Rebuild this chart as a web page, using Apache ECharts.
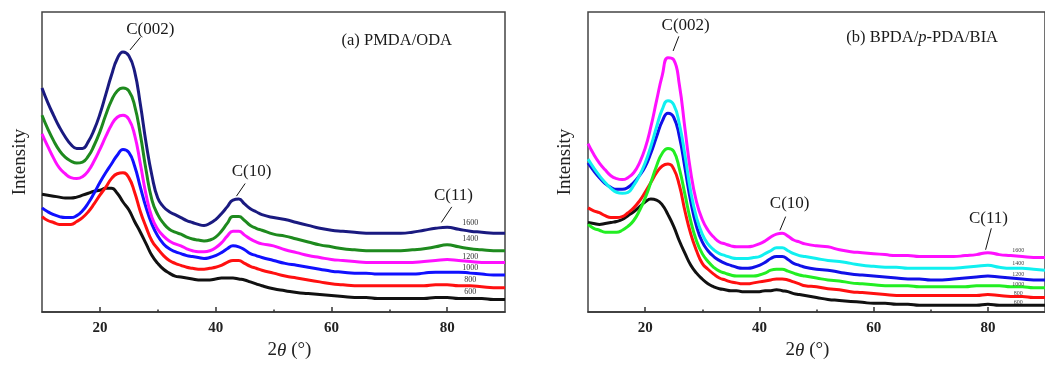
<!DOCTYPE html>
<html><head><meta charset="utf-8">
<script src="https://cdn.jsdelivr.net/npm/echarts@6/dist/echarts.min.js"></script>
<style>html,body{margin:0;padding:0;background:#fff}#c{width:1045px;height:365px}</style>
</head><body><div id="c"></div>
<script>
// ---- data ----
const twoTheta = [10,11,12,13,14,15,16,17,18,19,20,21,22,23,24,25,26,27,28,29,30,31,32,33,34,35,36,37,38,39,40,41,42,43,44,45,46,47,48,
                  50,52,54,56,58,60,62,64,66,68,70,72,74,76,78,80,82,84,86,88,90];
const majorTicks = [20,40,60,80];
const minorTicks = [30,50,70];
const temps = ['600','800','1000','1200','1400','1600'];

// (a) PMDA/ODA
const a600  = [121,120,119,118,117,117,118,120,122,124,125,127,127,122,113,105,93,82,70,58,50,44,40,37,36,35,34,33,33,33,34,35,35,35,34,33,31,29,27,
               24,22,20,19,18,17,16,15,15,14,14,14,14,14,15,15,14,14,14,13,13];
const a800  = [98,94,92,90,90,90,93,97,103,111,120,128,137,142,143,138,123,103,87,73,65,58,53,50,48,46,45,44,44,45,46,48,51,53,53,50,47,45,43,
               40,37,35,33,31,29,28,27,27,27,27,27,27,27,28,28,27,27,26,25,25];
const a1000 = [107,103,100,98,97,97,99,104,112,122,133,143,152,161,167,164,150,128,107,90,78,70,65,62,60,58,57,56,55,56,58,61,65,68,67,64,60,58,56,
               53,50,48,46,44,42,41,40,40,39,39,39,39,40,41,41,41,40,39,38,38];
const a1200 = [183,170,158,148,142,138,137,139,145,155,167,180,192,200,202,198,182,152,120,97,85,78,73,70,68,65,63,62,62,63,66,71,78,83,83,79,75,72,70,
               68,64,61,58,56,54,53,52,51,51,51,51,51,52,53,54,53,52,51,51,51];
const a1400 = [202,188,176,166,159,155,153,154,160,171,185,202,217,227,230,227,212,182,145,115,100,91,85,82,80,77,75,74,73,74,77,83,91,98,98,94,89,86,84,
               80,78,75,72,69,67,65,64,63,63,63,63,64,65,67,69,67,65,64,63,63];
const a1600 = [230,215,202,190,180,172,168,168,175,187,203,223,243,260,267,263,247,213,173,140,117,108,103,100,97,94,92,90,89,91,95,101,108,115,116,111,106,103,100,
               97,95,92,89,86,84,83,82,81,81,81,81,82,84,86,87,85,83,82,81,81];

// (b) BPDA/p-PDA/BIA
const b600  = [92,91,90,91,92,93,95,99,103,108,113,116,115,110,100,88,73,60,48,40,34,29,26,24,23,22,22,21,21,21,21,22,22,23,22,21,19,18,17,
               15,13,12,11,10,9,9,8,8,7,7,7,7,7,7,8,7,7,7,7,7];
const b800  = [107,104,102,99,97,97,98,102,107,114,123,133,143,150,152,147,130,103,80,63,50,44,39,35,33,31,30,29,29,30,31,32,33,34,34,33,31,29,27,
               26,24,23,21,20,19,18,17,17,17,17,17,17,17,17,18,17,16,16,15,15];
const b1000 = [90,86,84,82,82,82,84,88,94,104,117,133,150,163,168,165,147,120,93,73,60,52,46,42,40,38,37,37,37,37,38,40,43,44,44,42,40,38,37,
               35,33,32,30,29,28,27,27,27,26,26,26,26,26,27,27,27,26,26,25,25];
const b1200 = [153,145,138,132,128,126,126,128,133,140,149,163,180,196,204,200,180,147,113,88,72,63,57,53,50,48,46,45,45,46,48,51,55,57,57,54,50,48,46,
               44,43,41,39,38,37,36,35,34,34,33,33,34,35,36,37,36,35,34,33,33];
const b1400 = [157,148,140,133,127,123,122,123,130,140,153,170,190,208,217,213,193,160,123,97,80,70,64,60,58,56,55,55,55,56,57,60,63,66,66,63,60,58,57,
               55,53,52,50,48,47,46,46,45,45,45,45,45,46,47,48,46,45,45,44,43];
const b1600 = [173,162,153,146,140,137,136,138,143,153,168,190,217,243,261,259,233,187,143,113,95,84,77,72,70,68,67,67,67,68,70,73,77,80,81,78,74,72,70,
               68,67,64,62,61,60,59,58,58,57,57,57,57,58,59,61,59,58,57,56,56];

const panelA = [a600,a800,a1000,a1200,a1400,a1600];
const panelB = [b600,b800,b1000,b1200,b1400,b1600];
const colorsA = ['#111111','#ff1010','#1010ff','#ff10ff','#1e8a1e','#1a1a80'];
const colorsB = ['#111111','#ff1010','#22ee22','#1010e8','#10f0f0','#ff10ff'];

// ---- chart ----
const SERIF = 'Liberation Serif';
function pts(arr){ return twoTheta.map((x,i)=>[x,arr[i]]); }
function txt(text, coord, size, extra){
  return {name:text, coord:coord, symbol:'circle', symbolSize:0,
    label:Object.assign({show:true, position:'inside', formatter:text, fontSize:size,
      fontFamily:SERIF, color:'#1a1a1a'}, extra||{})};
}
function arrow(a,b){ return [{coord:a},{coord:b}]; }

function mainX(gi, namePad){
  return {type:'value', gridIndex:gi, min:10, max:90, interval:10,
    axisLine:{show:true, lineStyle:{color:'#333', width:1.5}},
    axisTick:{show:true, inside:true, length:5, customValues:majorTicks, lineStyle:{color:'#333', width:1.5}},
    axisLabel:{show:true, customValues:majorTicks, margin:9, fontFamily:SERIF, fontWeight:'bold', fontSize:15, color:'#222'},
    splitLine:{show:false},
    name:'{n|2}{i|θ}{n| (°)}', nameLocation:'middle', nameGap:namePad[0],
    nameTextStyle:{padding:namePad[1], rich:{n:{fontFamily:SERIF, fontSize:19, color:'#222'}, i:{fontFamily:SERIF, fontStyle:'italic', fontSize:19, color:'#222'}}}
  };
}
function minorX(gi){
  return {type:'value', gridIndex:gi, min:10, max:90, interval:10, position:'bottom', offset:0,
    axisLine:{show:false},
    axisTick:{show:true, inside:true, length:2.5, customValues:minorTicks, lineStyle:{color:'#333', width:1.5}},
    axisLabel:{show:false}, splitLine:{show:false}};
}
function yAx(gi, gap){
  return {type:'value', gridIndex:gi, min:0, max:308,
    axisLine:{show:false}, axisTick:{show:false}, axisLabel:{show:false}, splitLine:{show:false},
    name:'Intensity', nameLocation:'middle', nameGap:gap,
    nameTextStyle:{fontFamily:SERIF, fontSize:19, color:'#222'}};
}

const series = [];
panelA.forEach((arr,k)=>{
  series.push({type:'line', xAxisIndex:0, yAxisIndex:0, data:pts(arr), showSymbol:false, smooth:0.5,
    lineStyle:{color:colorsA[k], width:3}, z:2+k, silent:true});
});
panelB.forEach((arr,k)=>{
  series.push({type:'line', xAxisIndex:2, yAxisIndex:1, data:pts(arr), showSymbol:false, smooth:0.5,
    lineStyle:{color:colorsB[k], width:3}, z:2+k, silent:true});
});

const lblA = [[84,21],[84,33],[84,45],[84,57],[84,75],[84,92]];
const lblB = [[85.3,10],[85.3,19],[85.3,28],[85.3,39],[85.3,50],[85.3,63]];

series.push({type:'line', xAxisIndex:0, yAxisIndex:0, data:[], silent:true, z:20,
  markPoint:{silent:true, animation:false, data:[
    txt('C(002)',[28.7,290],17),
    txt('C(10)',[46.2,144],17),
    txt('C(11)',[81.1,120],17),
    txt('(a) PMDA/ODA',[71.3,279],16.5),
  ].concat(temps.map((t,i)=>txt(t,lblA[i],8,{color:'#333'})))},
  markLine:{silent:true, animation:false, symbol:['none','arrow'], symbolSize:[0,7],
    lineStyle:{color:'#111', width:1, type:'solid'}, label:{show:false},
    data:[arrow([27.0,282],[25.2,269]), arrow([45.1,132],[43.6,119]), arrow([80.8,108],[79.0,92])]}
});
series.push({type:'line', xAxisIndex:2, yAxisIndex:1, data:[], silent:true, z:20,
  markPoint:{silent:true, animation:false, data:[
    txt('C(002)',[27.1,294],17),
    txt('C(10)',[45.3,111],17),
    txt('C(11)',[80.1,96],17),
    txt('(b) BPDA/p-PDA/BIA',[68.5,282],16.5,{formatter:'(b) BPDA/{i|p}-PDA/BIA', rich:{i:{fontStyle:'italic', fontFamily:SERIF, fontSize:16.5, color:'#1a1a1a'}}}),
  ].concat(temps.map((t,i)=>txt(t,lblB[i],6,{color:'#444'})))},
  markLine:{silent:true, animation:false, symbol:['none','arrow'], symbolSize:[0,7],
    lineStyle:{color:'#111', width:1, type:'solid'}, label:{show:false},
    data:[arrow([25.9,283],[24.9,268]), arrow([44.6,98],[43.6,84]), arrow([80.6,86],[79.6,64])]}
});

const chart = echarts.init(document.getElementById('c'), null, {renderer:'canvas'});
chart.setOption({
  animation:false,
  backgroundColor:'#fff',
  grid:[
    {left:42, top:12, width:463, height:308, show:true, borderColor:'#444', borderWidth:1.5, backgroundColor:'transparent'},
    {left:588, top:12, width:462, height:308, show:true, borderColor:'#444', borderWidth:1.5, backgroundColor:'transparent'}
  ],
  xAxis:[mainX(0,[26,[0,0,0,32]]), minorX(0), mainX(1,[22,[0,18,0,0]]), minorX(1)],
  yAxis:[yAx(0,12), yAx(1,13)],
  series:series
});
</script></body></html>
